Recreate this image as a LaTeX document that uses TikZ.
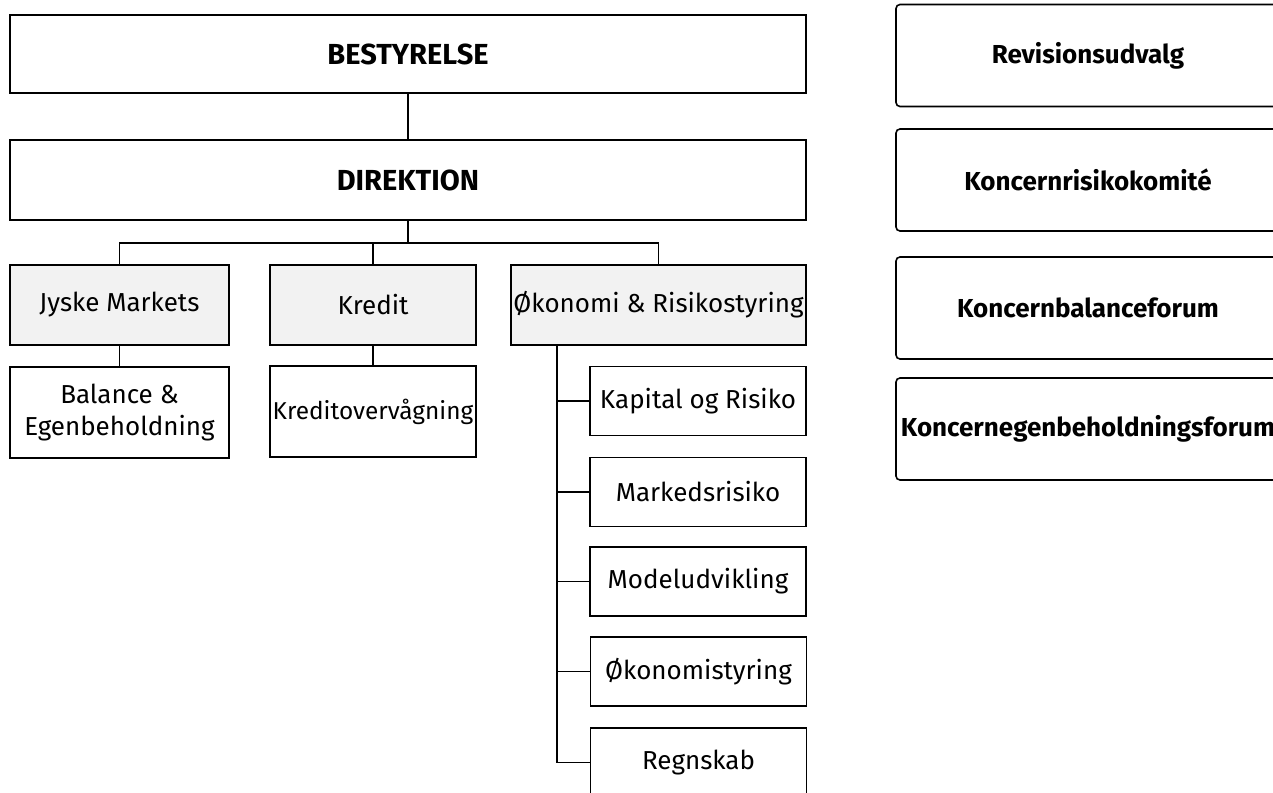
\documentclass[tikz,border=0pt]{standalone}
\usepackage{fontspec}
\setmainfont{Fira Sans}
\usepackage{tikz}
\usetikzlibrary{positioning,calc}

\begin{document}
\begin{tikzpicture}[x=0.5pt,y=-0.5pt,
  unit/.style={draw, line width=0.8pt, align=center, inner sep=0.5pt,
    font=\fontsize{13}{16}\selectfont},
  dept/.style={unit, fill=gray!10, minimum width=#1},
  top/.style={unit, minimum width=398pt, font=\fontsize{14.5}{17}\selectfont\bfseries},
  sub/.style={unit, minimum width=108pt, minimum height=34.5pt},
  forum/.style={unit, rounded corners=2pt, minimum width=192pt, minimum height=51pt,
    font=\fontsize{13}{16}\selectfont\bfseries},
  link/.style={line width=0.8pt}]
  \useasboundingbox (0,0) rectangle (1273,792);
  \node[top, minimum height=39pt] (best) at (408,54) {BESTYRELSE};
  \node[top, minimum height=40pt] (dir) at (408,180) {DIREKTION};
  \node[dept=109.5pt, minimum height=40pt] (jyske) at (119.5,305) {Jyske Markets};
  \node[dept=103pt, minimum height=40pt] (kredit) at (373,305) {Kredit};
  \node[dept=147.5pt, minimum height=40pt] (oeko) at (658.5,305) {\makebox[0pt]{Økonomi \& Risikostyring}};
  \node[unit, minimum width=109.5pt, minimum height=45.5pt] (bal) at (119.5,412.5) {Balance \&\\Egenbeholdning};
  \node[unit, minimum width=103pt, minimum height=45.5pt, font=\fontsize{12.2}{15}\selectfont] (kov) at (373,411.5) {\makebox[0pt]{Kreditovervågning}};
  \node[sub] (kap) at (698,401) {Kapital og Risiko};
  \node[sub] (mark) at (698,492) {Markedsrisiko};
  \node[sub] (model) at (698,581.5) {Modeludvikling};
  \node[sub] (styr) at (698.5,671.5) {Økonomistyring};
  \node[sub] (regn) at (698.5,762.5) {Regnskab};
  \node[forum] (rev) at (1088,55.5) {Revisionsudvalg};
  \node[forum] (krk) at (1088,180) {Koncernrisikokomité};
  \node[forum] (kbf) at (1088,308) {Koncernbalanceforum};
  \node[forum] (keb) at (1088,429) {Koncernegenbeholdningsforum};
  \coordinate (bus) at (408,243);
  \coordinate (spine) at (557,345);
  \draw[link] (best) -- (dir);
  \draw[link] (dir) -- (bus);
  \draw[link] (jyske.north) |- (bus) -| (oeko.north);
  \draw[link] (kredit.north) -- (kredit.north |- bus);
  \draw[link] (jyske) -- (bal);
  \draw[link] (kredit) -- (kov);
  \draw[link] (spine) |- (regn.west);
  \foreach \s in {kap,mark,model,styr}
    \draw[link] (\s.west) -- (\s.west -| spine);
\end{tikzpicture}
\end{document}
